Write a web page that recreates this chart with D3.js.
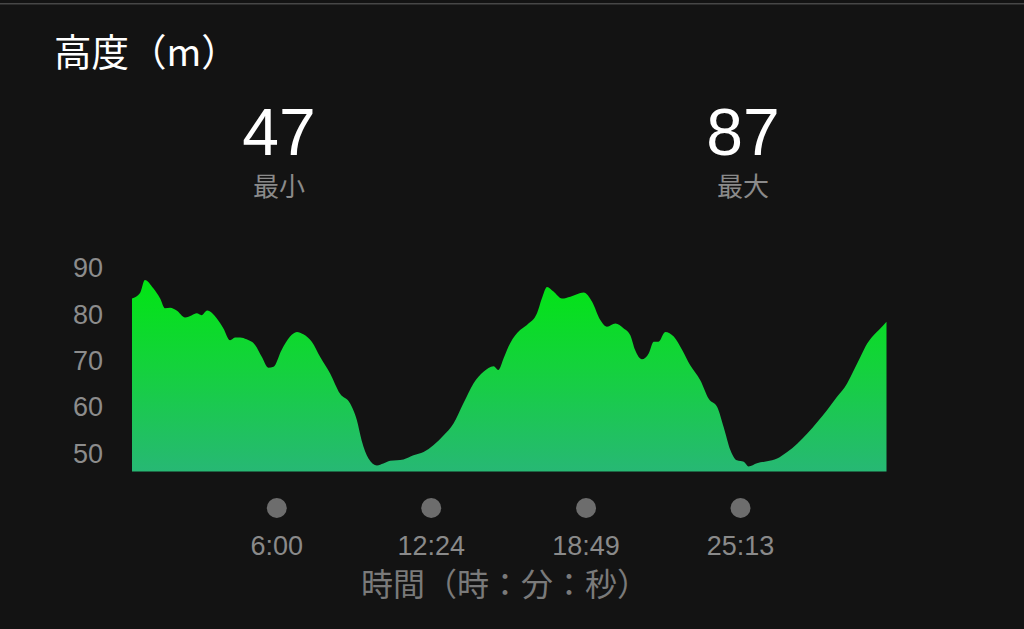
<!DOCTYPE html>
<html>
<head>
<meta charset="utf-8">
<script src="https://cdn.jsdelivr.net/npm/d3@7"></script>
<style>
  html, body { margin: 0; padding: 0; background: #131313; }
  svg { display: block; }
</style>
</head>
<body>
<script>
// ---- data ----
const timeSec = [0,20,32,53,70,82,95,111,132,149,161,173,187,211,227,244,256,269,285,306,323,339,352,372,393,410,426,447,468,493,517,542,559,571,588,609,625,642,659,675,700,725,750,775,799,824,849,874,899,911,924,940,965,982,1007,1019,1032,1048,1069,1090,1123,1144,1164,1181,1202,1222,1239,1251,1268,1285,1297,1309,1326,1347,1368,1388,1413,1434,1455,1471,1488,1504,1521,1533,1554,1579,1604,1629,1654,1679,1704,1728,1753,1778,1795,1811,1828,1844,1857,1876];
const elevation = [83.2,84.4,87.2,85.4,83.2,81.1,81.2,80.6,79.1,79.6,80.0,79.6,80.6,78.9,76.8,74.2,74.8,74.8,74.4,73.2,70.6,68.3,68.5,72.1,75.0,76.0,75.5,73.9,70.6,67.0,62.7,60.6,57.0,52.6,48.7,47.2,47.6,48.2,48.3,48.5,49.4,50.1,51.6,53.7,56.2,60.6,64.9,67.4,68.6,67.8,70.3,73.5,76.4,77.5,80.0,83.2,85.7,84.7,83.2,83.6,84.5,82.5,78.6,77.1,77.8,76.8,75.3,72.1,70.1,71.4,73.9,73.9,76.0,75.0,72.1,68.8,65.6,61.6,59.8,55.5,50.5,48.3,48.0,47.0,47.7,48.1,48.7,50.1,51.9,54.1,56.6,59.1,62.0,64.9,67.8,70.6,73.5,75.3,76.4,78.2];
const yTicks = [50, 60, 70, 80, 90];
const xTicks = [360, 744, 1129, 1513];
const xTickLabels = ["6:00", "12:24", "18:49", "25:13"];
const titleText = "高度（m）";
const minValue = 47, maxValue = 87;
const minLabel = "最小", maxLabel = "最大";
const xAxisTitle = "時間（時：分：秒）";

const W = 1024, H = 629;
const latin = "'Helvetica Neue', Helvetica, 'Liberation Sans', Arial, sans-serif";
const cjk = "'Noto Sans CJK JP', 'Noto Sans CJK SC', sans-serif";

const svg = d3.select("body").append("svg").attr("width", W).attr("height", H);
svg.append("rect").attr("width", W).attr("height", H).attr("fill", "#131313");
svg.append("rect").attr("x", 0).attr("y", 3).attr("width", W).attr("height", 1.5).attr("fill", "#474747");

const data = timeSec.map((t, i) => ({ t, v: elevation[i] }));

const x = d3.scaleLinear().domain([0, 1876]).range([132, 886.5]);
const y = d3.scaleLinear().domain([45.9, 90]).range([471.5, 267]);

// gradient
const defs = svg.append("defs");
const grad = defs.append("linearGradient").attr("id", "g").attr("gradientUnits", "userSpaceOnUse")
  .attr("x1", 0).attr("x2", 0).attr("y1", y(87)).attr("y2", y(45.9));
grad.append("stop").attr("offset", "0%").attr("stop-color", "#02e514");
grad.append("stop").attr("offset", "45%").attr("stop-color", "#14d23c");
grad.append("stop").attr("offset", "100%").attr("stop-color", "#27b874");

const area = d3.area().x(d => x(d.t)).y0(y(45.9)).y1(d => y(d.v)).curve(d3.curveMonotoneX);
svg.append("path").datum(data).attr("d", area).attr("fill", "url(#g)");

// y axis
const yAxis = svg.append("g").attr("transform", "translate(103,0)")
  .call(d3.axisLeft(y).tickValues(yTicks).tickSize(0).tickPadding(0).tickFormat(d3.format("d")));
yAxis.select(".domain").remove();
yAxis.selectAll("text").attr("fill", "#8c8c8c").attr("font-family", latin).attr("font-size", 27)
  .attr("dy", "0.36em");

// x axis (dots + labels)
const xAxis = svg.append("g").attr("transform", "translate(0,508)");
xAxis.selectAll("circle").data(xTicks).join("circle")
  .attr("cx", d => x(d)).attr("cy", 0).attr("r", 10).attr("fill", "#6d6d6d");
xAxis.selectAll("text").data(xTicks).join("text")
  .attr("x", d => x(d)).attr("y", 47).attr("text-anchor", "middle")
  .attr("fill", "#8a8a8a").attr("font-family", latin).attr("font-size", 27)
  .text((d, i) => xTickLabels[i]);

svg.append("text").attr("x", 505).attr("y", 596).attr("text-anchor", "middle")
  .attr("fill", "#7a7a7a").attr("font-family", cjk).attr("font-size", 32).text(xAxisTitle);

// title
svg.append("text").attr("x", 54).attr("y", 66).attr("fill", "#ffffff")
  .attr("font-family", cjk).attr("font-size", 37.5).text(titleText);

// stats
const stats = [{ v: minValue, l: minLabel, cx: 279 }, { v: maxValue, l: maxLabel, cx: 743 }];
const sg = svg.selectAll("g.stat").data(stats).join("g").attr("class", "stat");
sg.append("text").attr("x", d => d.cx).attr("y", 155).attr("text-anchor", "middle")
  .attr("fill", "#ffffff").attr("font-family", latin).attr("font-size", 66).text(d => d.v);
sg.append("text").attr("x", d => d.cx).attr("y", 196).attr("text-anchor", "middle")
  .attr("fill", "#8a8a8a").attr("font-family", cjk).attr("font-size", 26).text(d => d.l);
</script>
</body>
</html>
